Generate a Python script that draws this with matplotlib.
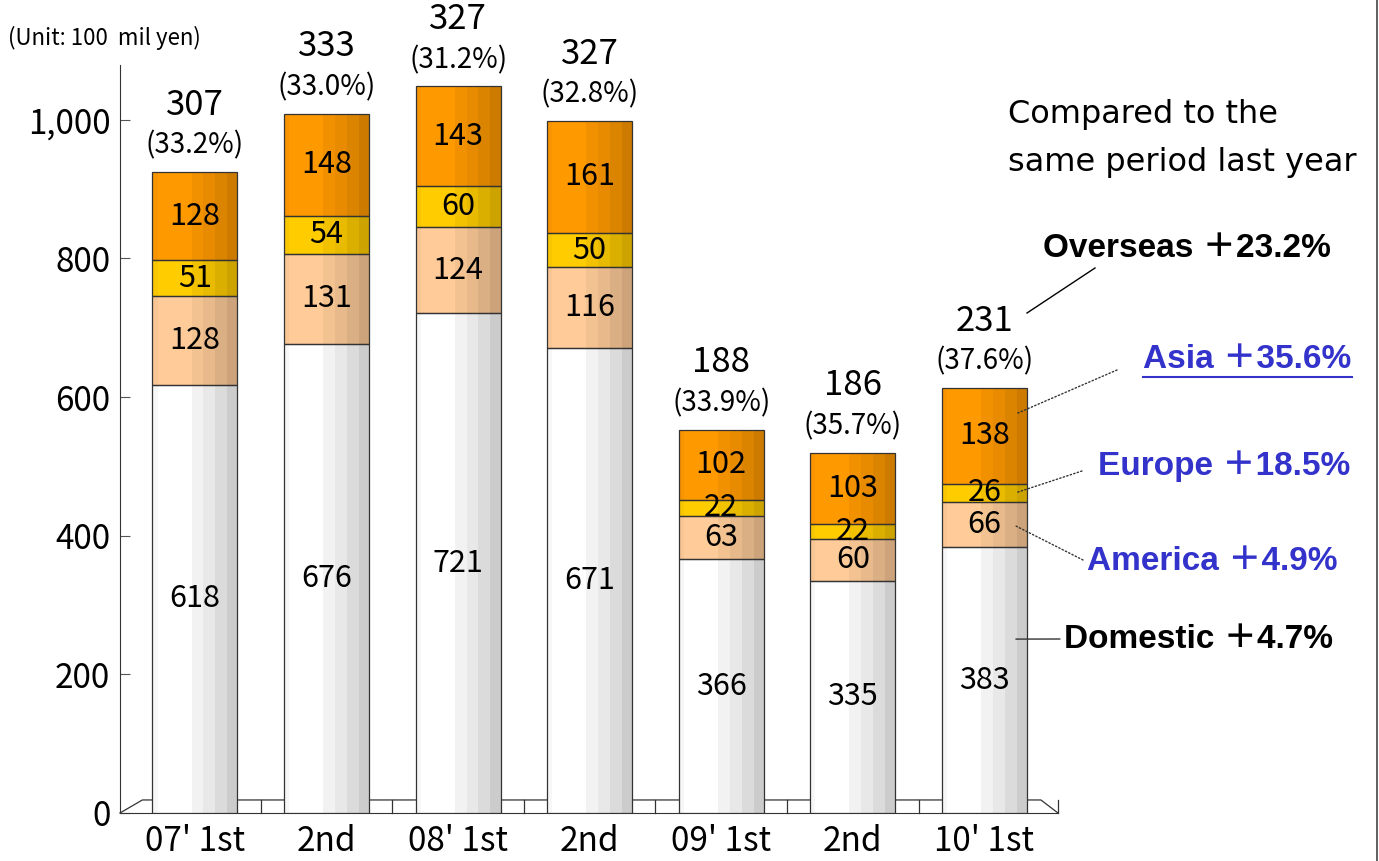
import matplotlib
matplotlib.use("Agg")
import matplotlib.pyplot as plt
from matplotlib.lines import Line2D
from matplotlib.ticker import FuncFormatter
import numpy as np

plt.rcParams['font.family'] = ['Noto Sans CJK JP', 'DejaVu Sans']

periods = ["07' 1st", "2nd", "08' 1st", "2nd", "09' 1st", "2nd", "10' 1st"]
domestic = [618, 676, 721, 671, 366, 335, 383]
america = [128, 131, 124, 116, 63, 60, 66]
europe = [51, 54, 60, 50, 22, 22, 26]
asia = [128, 148, 143, 161, 102, 103, 138]
overseas_total = [307, 333, 327, 327, 188, 186, 231]
overseas_share = [33.2, 33.0, 31.2, 32.8, 33.9, 35.7, 37.6]

growth_labels = ["Overseas ＋23.2%", "Asia ＋35.6%", "Europe ＋18.5%",
                 "America ＋4.9%", "Domestic ＋4.7%"]

# base colour per segment, left-to-right shading factors for the cylinder look
seg_colors = ['#ffffff', '#ffcc99', '#ffcc00', '#ff9900']
shade = [0.97, 1.0, 1.0, 0.95, 0.91, 0.86, 0.80]
strip_w = [0.06, 0.20, 0.20, 0.14, 0.14, 0.14, 0.12]

W, H = 1379, 861
fig = plt.figure(figsize=(W / 100, H / 100), dpi=100)
ax = fig.add_axes([120 / W, 1 - 813 / H, (1058 - 120) / W, (813 - 65) / H])
ax.set_xlim(-0.57, 6.56)
ax.set_ylim(0, 1079)

bw = 0.646


def tint(hexcol, f):
    c = np.array(matplotlib.colors.to_rgb(hexcol))
    return np.clip(c * f, 0, 1)


x = np.arange(len(periods))
bottom = np.zeros(len(periods))
for vals, col in zip([domestic, america, europe, asia], seg_colors):
    vals = np.array(vals, dtype=float)
    left = x - bw / 2
    for f, sw in zip(shade, strip_w):
        ax.bar(left, vals, width=sw * bw, bottom=bottom, align='edge',
               color=tint(col, f), linewidth=0, zorder=3)
        left = left + sw * bw
    ax.bar(x, vals, width=bw, bottom=bottom, fill=False,
           edgecolor='#333333', linewidth=0.9, zorder=4)
    for xi, b, v in zip(x, bottom, vals):
        ax.text(xi, b + v / 2, f"{int(v)}", ha='center', va='center',
                fontsize=22, zorder=5)
    bottom = bottom + vals

# totals above each bar
for xi, top, tot, pct in zip(x, bottom, overseas_total, overseas_share):
    ax.annotate(f"({pct:.1f}%)", (xi, top), xytext=(0, 19),
                textcoords='offset points', ha='center', va='center',
                fontsize=20)
    ax.annotate(f"{tot}", (xi, top), xytext=(0, 48),
                textcoords='offset points', ha='center', va='center',
                fontsize=25)

# 3D-style floor
fy = 18.8
floor_kw = dict(color='#333333', linewidth=0.9, clip_on=False, zorder=1)
ax.plot([-0.57, -0.40, 6.43, 6.56], [0, fy, fy, 0], **floor_kw)
ax.plot([6.56, 6.56], [0, fy], **floor_kw)
for d in x[:-1] + 0.5:
    ax.plot([d, d], [0, fy], **floor_kw)

for s in ['top', 'right']:
    ax.spines[s].set_visible(False)
ax.spines['left'].set_color('#333333')
ax.spines['bottom'].set_color('#333333')
ax.set_yticks(range(0, 1001, 200))
ax.yaxis.set_major_formatter(FuncFormatter(lambda v, p: f"{int(v):,}"))
ax.tick_params(axis='y', direction='in', length=7, color='#555555',
               labelsize=24, pad=7)
ax.set_xticks(x)
ax.set_xticklabels(periods)
ax.tick_params(axis='x', length=0, labelsize=24, pad=8)

fig.text(8 / W, 1 - 38 / H, "(Unit: 100  mil yen)", fontsize=16,
         va='center', ha='left')

fig.text(1008 / W, 1 - 115 / H, "Compared to the", fontsize=23,
         family='DejaVu Sans', va='center')
fig.text(1008 / W, 1 - 162 / H, "same period last year", fontsize=23,
         family='DejaVu Sans', va='center')

label_font = ['Liberation Sans', 'Noto Sans CJK JP']
label_pos = [(1043, 248), (1143, 360), (1098, 466), (1087, 562), (1064, 639)]
label_col = ['black', '#3333cc', '#3333cc', '#3333cc', 'black']
for txt, (px, py), c in zip(growth_labels, label_pos, label_col):
    fig.text(px / W, 1 - py / H, txt, fontsize=24, fontweight='bold',
             color=c, family=label_font, va='center')
# underline on the Asia label
fig.add_artist(Line2D([1143 / W, 1352 / W], [1 - 377 / H, 1 - 377 / H],
                      color='#3333cc', linewidth=1.5))

# leader lines from the last bar to its growth labels
last = len(periods) - 1
anchors = [
    (domestic[last] + america[last] + europe[last] + 0.73 * asia[last], (1117, 370), ':'),
    (domestic[last] + america[last] + 0.5 * europe[last], (1082, 471), ':'),
    (domestic[last] + 0.47 * america[last], (1083, 560), ':'),
    (0.655 * domestic[last], (1060, 639), '-'),
]
for yv, (px, py), ls in anchors:
    ax.annotate('', xy=(last + 0.24, yv), xycoords='data',
                xytext=(px / W, 1 - py / H), textcoords='figure fraction',
                arrowprops=dict(arrowstyle='-', linestyle=ls, color='#333333',
                                linewidth=1.0, shrinkA=0, shrinkB=0), zorder=6)
fig.add_artist(Line2D([1027 / W, 1095 / W], [1 - 313 / H, 1 - 268 / H],
                      color='black', linewidth=1.0))

# frame edge on the right
fig.add_artist(Line2D([1377 / W, 1377 / W], [0, 1], color='#444444',
                      linewidth=1.2))

fig.savefig('out.png', dpi=100)
